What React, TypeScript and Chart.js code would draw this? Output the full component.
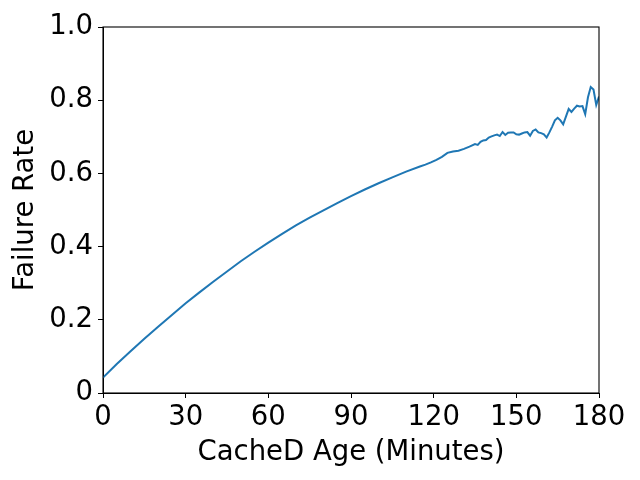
import React, { useEffect, useRef } from "react";
import { Chart, registerables } from "chart.js";

Chart.register(...registerables);

const minutes = [
  0, 5, 10, 15, 20, 25, 30, 35, 40, 45, 50, 55, 60, 65, 70, 75, 80, 85, 90, 95, 100, 105, 110, 115,
  117, 119, 121, 123, 125, 127, 129, 131, 133, 135, 136, 137, 138, 139, 140, 141, 142, 143, 144, 145,
  146, 147, 148, 149, 150, 151, 152, 153, 154, 155, 156, 157, 158, 159, 160, 161, 162, 163, 164, 165,
  166, 167, 168, 169, 170, 171, 172, 173, 174, 175, 176, 177, 178, 179, 180, 181,
];

const failureRate = [
  0.042, 0.079, 0.114, 0.148, 0.181, 0.213, 0.245, 0.275, 0.304, 0.332, 0.36, 0.386, 0.411, 0.435,
  0.458, 0.479, 0.499, 0.519, 0.538, 0.556, 0.573, 0.589, 0.605, 0.619,
  0.624, 0.63, 0.637, 0.645, 0.656, 0.66, 0.662, 0.667, 0.673, 0.68, 0.678, 0.686, 0.69, 0.691, 0.698,
  0.701, 0.704, 0.706, 0.702, 0.713, 0.705, 0.711, 0.712, 0.712, 0.707, 0.706, 0.709, 0.712, 0.713,
  0.703, 0.716, 0.72, 0.712, 0.71, 0.707, 0.698, 0.712, 0.728, 0.745, 0.752, 0.745, 0.734, 0.755,
  0.776, 0.768, 0.777, 0.785, 0.783, 0.784, 0.762, 0.808, 0.836, 0.829, 0.787, 0.81, 0.74,
];

const xTicks = [0, 30, 60, 90, 120, 150, 180];
const yTicks = [0, 0.2, 0.4, 0.6, 0.8, 1.0];

const FONT = "'DejaVu Sans', sans-serif";
const FS = 27.5;

export default function App() {
  const ref = useRef<HTMLCanvasElement>(null);

  useEffect(() => {
    document.body.style.margin = "0";
    const frame = {
      id: "frame",
      afterDatasetsDraw(chart: any) {
        const { ctx, chartArea } = chart;
        ctx.save();
        ctx.strokeStyle = "#000";
        ctx.lineWidth = 1.1;
        ctx.strokeRect(chartArea.left, chartArea.top, chartArea.right - chartArea.left, chartArea.bottom - chartArea.top);
        ctx.restore();
      },
    };
    const chart = new Chart(ref.current!, {
      type: "line",
      data: {
        datasets: [
          {
            data: minutes.map((m, i) => ({ x: m, y: failureRate[i] })),
            borderColor: "#1f77b4",
            borderWidth: 2,
            pointRadius: 0,
            tension: 0,
            fill: false,
          },
        ],
      },
      plugins: [frame],
      options: {
        animation: false,
        responsive: false,
        layout: { padding: { left: 0, right: 41, top: 27, bottom: 0 } },
        plugins: { legend: { display: false }, tooltip: { enabled: false } },
        scales: {
          x: {
            type: "linear",
            min: 0,
            max: 180,
            afterBuildTicks: (s: any) => {
              s.ticks = xTicks.map((v) => ({ value: v }));
            },
            afterFit: (s: any) => {
              s.height = 87;
            },
            ticks: {
              color: "#000",
              font: { family: FONT, size: FS },
              padding: 3,
              maxRotation: 0,
              autoSkip: false,
              callback: (v: any) => String(v),
            },
            grid: { display: true, drawOnChartArea: false, drawTicks: true, tickLength: 5, color: "#000", tickWidth: 1 },
            border: { display: true, color: "#000", width: 1 },
            title: {
              display: true,
              text: "CacheD Age (Minutes)",
              color: "#000",
              font: { family: FONT, size: FS },
              padding: { top: 11, bottom: 11 },
            },
          },
          y: {
            type: "linear",
            min: 0,
            max: 1,
            afterBuildTicks: (s: any) => {
              s.ticks = yTicks.map((v) => ({ value: v }));
            },
            afterFit: (s: any) => {
              s.width = 103;
            },
            ticks: {
              color: "#000",
              font: { family: FONT, size: FS },
              padding: 5,
              autoSkip: false,
              callback: (v: any) => (v === 0 ? "0" : Number(v).toFixed(1)),
            },
            grid: { display: true, drawOnChartArea: false, drawTicks: true, tickLength: 5, color: "#000", tickWidth: 1 },
            border: { display: true, color: "#000", width: 1 },
            title: {
              display: true,
              text: "Failure Rate",
              color: "#000",
              font: { family: FONT, size: FS },
              padding: { top: 9, bottom: 9 },
            },
          },
        },
      },
    });
    return () => chart.destroy();
  }, []);

  return (
    <div style={{ position: "absolute", left: 0, top: 0, width: 640, height: 480 }}>
      <canvas ref={ref} width={640} height={480} style={{ width: 640, height: 480, display: "block" }} />
    </div>
  );
}
